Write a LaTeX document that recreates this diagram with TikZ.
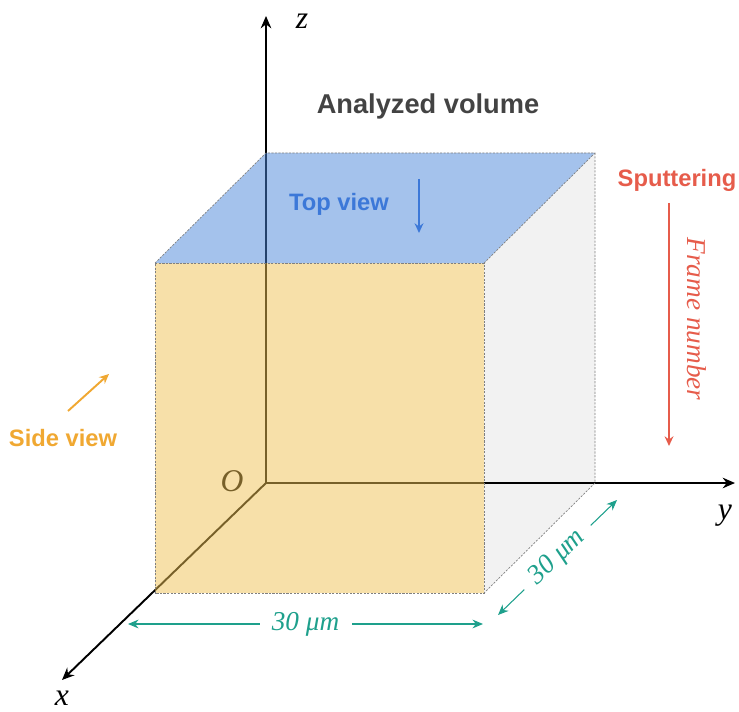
\documentclass[tikz,border=0pt]{standalone}
\usepackage{fontspec}
\setmainfont{Liberation Sans}
\newfontfamily\serifit{Liberation Serif}
\definecolor{volgray}{RGB}{67,67,67}
\definecolor{topblue}{RGB}{73,133,217}
\definecolor{sideyellow}{RGB}{239,193,83}
\definecolor{facegray}{RGB}{242,242,242}
\definecolor{viewblue}{RGB}{60,120,216}
\definecolor{sputred}{RGB}{230,92,75}
\definecolor{sideorange}{RGB}{240,168,50}
\definecolor{dimteal}{RGB}{30,160,140}
\usetikzlibrary{arrows.meta}

\tikzset{
  axis/.style={line width=1.1pt, -{Stealth[length=7pt,width=6pt]}},
  axislabel/.style={font=\serifit\itshape\fontsize{18}{18}\selectfont},
  cubeedge/.style={gray, line width=0.4pt, dash pattern=on 1.2pt off 0.8pt},
  viewlabel/.style={font=\bfseries\fontsize{13.5}{14}\selectfont},
  viewarrow/.style={line width=1.1pt, -{Stealth[length=5.5pt,width=5pt]}},
  dimline/.style={dimteal, line width=0.6pt, {Stealth[length=6pt,width=5pt]}-{Stealth[length=6pt,width=5pt]}},
  dimlabel/.style={font=\serifit\itshape\fontsize{15.5}{15.5}\selectfont, text=dimteal, fill=white, inner xsep=7pt, inner ysep=0pt}
}

\begin{document}
\begin{tikzpicture}
  \useasboundingbox (0,0) rectangle (14.78,14.22);

  % Cube corners
  \coordinate (fbl) at (3.10,2.36);
  \coordinate (ftl) at (3.10,8.96);
  \coordinate (ftr) at (9.68,8.96);
  \coordinate (fbr) at (9.68,2.36);
  \coordinate (btl) at (5.32,11.16);
  \coordinate (btr) at (11.90,11.16);
  \coordinate (bbr) at (11.90,4.56);

  % Right face (under the axes)
  \fill[facegray] (ftr) -- (btr) -- (bbr) -- (fbr) -- cycle;

  % Axes
  \coordinate (O) at (5.32,4.56);
  \coordinate (xend) at (1.24,0.62);
  \coordinate (yend) at (14.70,4.56);
  \coordinate (zend) at (5.32,13.90);
  \draw[axis] (O) -- (xend);
  \draw[axis] (O) -- (yend);
  \draw[axis] (O) -- (zend);
  \node[axislabel] (xlab) at (1.24,0.26) {x};
  \node[axislabel] (ylab) at (14.50,3.90) {y};
  \node[axislabel] (zlab) at (6.04,13.80) {z};
  \node[axislabel] (olab) at (4.64,4.60) {O};

  % Front and top faces
  \fill[sideyellow, fill opacity=0.5] (fbl) -- (ftl) -- (ftr) -- (fbr) -- cycle;
  \fill[topblue, fill opacity=0.5] (ftl) -- (btl) -- (btr) -- (ftr) -- cycle;
  \draw[cubeedge] (fbl) -- (ftl) -- (ftr) -- (fbr) -- cycle;
  \draw[cubeedge] (ftl) -- (btl) -- (btr) -- (bbr) -- (fbr);
  \draw[cubeedge] (ftr) -- (btr);

  % Title
  \node[font=\bfseries\fontsize{15.5}{16}\selectfont, text=volgray] (title) at (8.56,12.10) {Analyzed volume};

  % Top view
  \node[viewlabel, text=viewblue] (topview) at (6.78,10.14) {Top view};
  \coordinate (topA) at (8.38,10.64);
  \coordinate (topB) at (8.38,9.56);
  \draw[viewarrow, viewblue] (topA) -- (topB);

  % Side view
  \node[viewlabel, text=sideorange] (sideview) at (1.26,5.46) {Side view};
  \coordinate (sideA) at (1.36,6.00);
  \coordinate (sideB) at (2.18,6.74);
  \draw[viewarrow, sideorange] (sideA) -- (sideB);

  % Sputtering
  \node[viewlabel, text=sputred] (sputter) at (13.54,10.62) {Sputtering};
  \coordinate (sputA) at (13.38,10.16);
  \coordinate (sputB) at (13.38,5.30);
  \draw[viewarrow, sputred] (sputA) -- (sputB);
  \node[font=\serifit\itshape\fontsize{15.5}{15.5}\selectfont, text=sputred, rotate=-90] (frame) at (13.94,7.84) {Frame number};

  % Dimensions
  \coordinate (dimL) at (2.56,1.74);
  \coordinate (dimR) at (9.66,1.74);
  \draw[dimline] (dimL) -- node[dimlabel] (dimw) {30 μm} (dimR);
  \coordinate (dimD) at (9.96,1.92);
  \coordinate (dimU) at (12.34,4.22);
  \draw[dimline] (dimD) -- node[dimlabel, sloped] (dimd) {30 μm} (dimU);
\end{tikzpicture}
\end{document}
